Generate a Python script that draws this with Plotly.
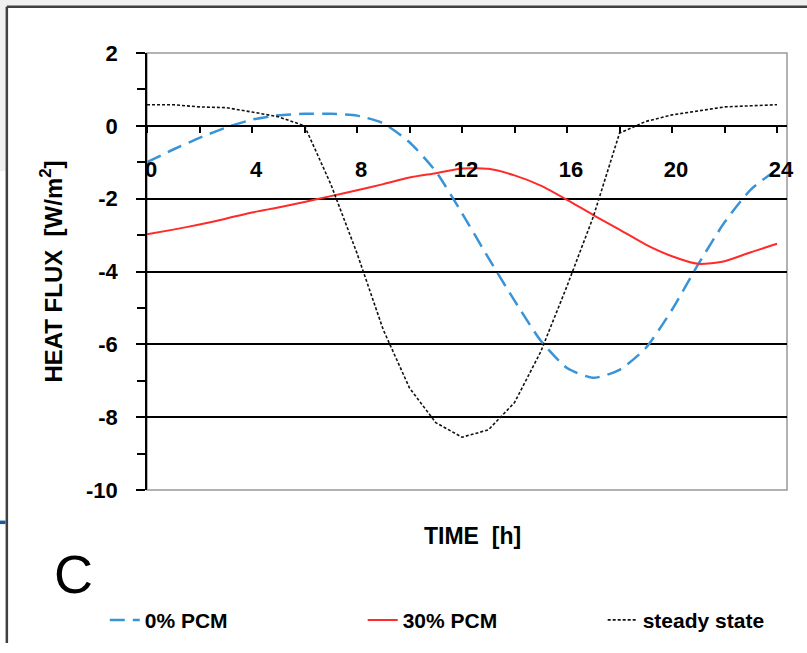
import plotly.graph_objects as go

hours = list(range(0, 25))
pcm0 = [-1.0, -0.65, -0.33, -0.05, 0.17, 0.29, 0.33, 0.33, 0.28, 0.07, -0.45, -1.25,
        -2.4, -3.62, -4.8, -5.9, -6.65, -6.92, -6.7, -6.1, -5.05, -3.8, -2.65, -1.75, -1.2]
pcm30 = [-2.98, -2.85, -2.71, -2.55, -2.38, -2.24, -2.09, -1.93, -1.77, -1.6, -1.42, -1.3,
         -1.17, -1.18, -1.36, -1.64, -2.03, -2.45, -2.85, -3.26, -3.58, -3.79, -3.72, -3.47, -3.24]
steady = [0.58, 0.58, 0.52, 0.5, 0.38, 0.25, 0.0, -1.6, -3.5, -5.6, -7.2, -8.15,
          -8.55, -8.35, -7.6, -6.2, -4.4, -2.5, -0.2, 0.12, 0.3, 0.42, 0.52, 0.55, 0.58]
names = ["0% PCM", "30% PCM", "steady state"]
y_tickvals = [2, 0, -2, -4, -6, -8, -10]
y_ticktext = ["2", "0", "-2", "-4", "-6", "-8", "-10"]

FONT = "Liberation Sans, Arial, sans-serif"
fig = go.Figure()
fig.add_trace(go.Scatter(x=hours, y=pcm0, name=names[0], mode="lines", legend="legend",
                         line=dict(color="#3a93d6", width=2.5, dash="15px,8px", shape="spline", smoothing=0.6)))
fig.add_trace(go.Scatter(x=hours, y=pcm30, name=names[1], mode="lines", legend="legend2",
                         line=dict(color="#ff2a2a", width=2, shape="spline", smoothing=0.6)))
fig.add_trace(go.Scatter(x=hours, y=steady, name=names[2], mode="lines", legend="legend3",
                         line=dict(color="#111111", width=1.6, dash="3px,2px")))

xr = [0, 24.38]
leg_common = dict(orientation="h", y=-0.298, xanchor="left", yanchor="middle",
                  font=dict(size=21, weight="bold"), bgcolor="rgba(0,0,0,0)")
fig.update_layout(
    width=807, height=653,
    margin=dict(l=147, r=20, t=53, b=156),
    paper_bgcolor="white", plot_bgcolor="white",
    font=dict(family=FONT, size=22, color="black", weight="bold"),
    showlegend=True,
    legend=dict(x=-0.066, **leg_common),
    legend2=dict(x=0.337, **leg_common),
    legend3=dict(x=0.712, **leg_common),
    xaxis=dict(range=xr, anchor="free", position=10/12, dtick=4, tick0=0,
               ticks="outside", ticklen=6, tickwidth=1.5, tickcolor="black",
               showline=True, linecolor="black", linewidth=1.5, showgrid=False, zeroline=False,
               ticklabelstandoff=18, ticklabelshift=4,
               minor=dict(dtick=2, ticks="outside", ticklen=6, tickwidth=1.5, tickcolor="black", showgrid=False),
               tickfont=dict(size=22, weight="bold")),
    yaxis=dict(range=[-10, 2], tickmode="array", tickvals=y_tickvals, ticktext=y_ticktext,
               ticks="outside", ticklen=9, tickwidth=1.5,
               tickcolor="black", showline=True, linecolor="black", linewidth=1.8,
               showgrid=True, gridcolor="black", gridwidth=1.5, zeroline=False,
               ticklabelstandoff=14,
               minor=dict(dtick=1, tick0=0, ticks="outside", ticklen=8, tickwidth=1.5, tickcolor="black", showgrid=False),
               tickfont=dict(size=22, weight="bold"),
               title=dict(text="HEAT FLUX  [W/m<sup>2</sup>]", standoff=17, font=dict(size=24, weight="bold"))),
)

# plot frame (grey) and page decoration
fig.add_shape(type="rect", xref="paper", yref="paper", x0=0, x1=1, y0=0, y1=1,
              line=dict(color="#999999", width=1.5), layer="below")
fig.add_shape(type="rect", xref="paper", yref="paper", x0=-0.235, x1=1.04, y0=1.106, y1=1.2,
              line=dict(width=0), fillcolor="#f0f0f0", layer="below")
fig.add_shape(type="rect", xref="paper", yref="paper", x0=-0.235, x1=-0.219, y0=0.73, y1=1.106,
              line=dict(width=0), fillcolor="#f0f0f0", layer="below")
fig.add_shape(type="line", xref="paper", yref="paper", x0=-0.219, x1=1.04, y0=1.106, y1=1.106,
              line=dict(color="#404040", width=2.5))
fig.add_shape(type="line", xref="paper", yref="paper", x0=-0.219, x1=-0.219, y0=-0.35, y1=1.106,
              line=dict(color="#404040", width=2.5))
fig.add_shape(type="rect", xref="paper", yref="paper", x0=-0.235, x1=-0.221, y0=-0.078, y1=-0.070,
              line=dict(width=0), fillcolor="#1a5aa0")

fig.add_annotation(text="TIME  [h]", xref="paper", yref="paper", x=0.508, y=-0.106,
                   showarrow=False, font=dict(size=23, weight="bold", family=FONT),
                   xanchor="center", yanchor="middle")
fig.add_annotation(text="C", xref="paper", yref="paper", x=-0.1156, y=-0.192,
                   showarrow=False, font=dict(size=54, weight="normal", family=FONT),
                   xanchor="center", yanchor="middle")

fig.write_html("out.html", config={"displayModeBar": False},
               post_script="document.body.style.margin='0';document.body.style.overflow='hidden';")
